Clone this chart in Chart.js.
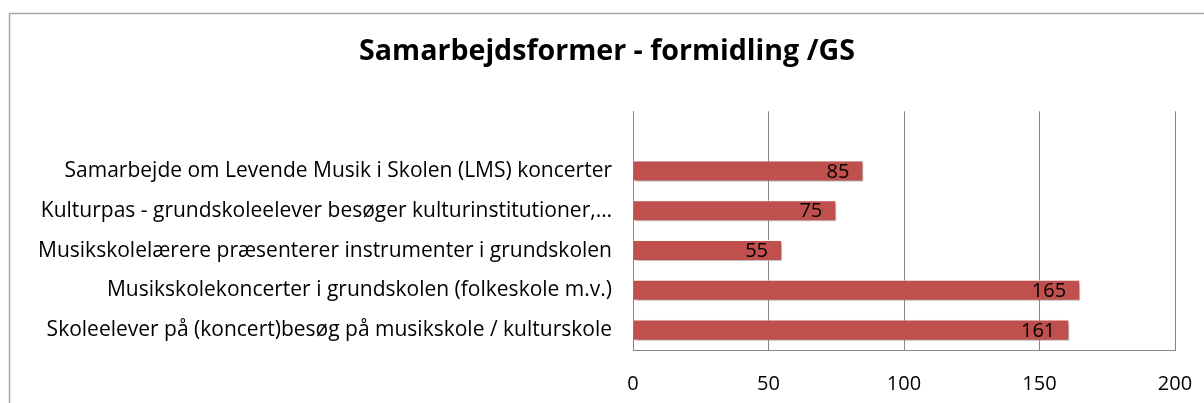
<!DOCTYPE html>
<html>
<head>
<meta charset="utf-8">
<script src="https://cdn.jsdelivr.net/npm/chart.js@4/dist/chart.umd.min.js"></script>
<style>
  html, body { margin: 0; padding: 0; background: #fff; }
  #wrap { width: 1204px; height: 403px; position: relative; }
</style>
</head>
<body>
<div id="wrap"><canvas id="chart" width="1204" height="403"></canvas></div>
<script>
// data (top slot is empty in the original)
var categories = [
  '',
  'Samarbejde om Levende Musik i Skolen (LMS) koncerter',
  'Kulturpas - grundskoleelever besøger kulturinstitutioner,…',
  'Musikskolelærere præsenterer instrumenter i grundskolen',
  'Musikskolekoncerter i grundskolen (folkeskole m.v.)',
  'Skoleelever på (koncert)besøg på musikskole / kulturskole'
];
var values = [null, 85, 75, 55, 165, 161];
var xTicks = [0, 50, 100, 150, 200];

var FONT = '"Open Sans", sans-serif';

// frame round the whole chart
var framePlugin = {
  id: 'frame',
  beforeDraw: function(chart) {
    var ctx = chart.ctx;
    ctx.save();
    ctx.fillStyle = '#fff';
    ctx.fillRect(0, 0, chart.width, chart.height);
    ctx.strokeStyle = '#a6a6a6';
    ctx.lineWidth = 1.5;
    ctx.strokeRect(9.5, 13.5, 1400, 600);
    ctx.restore();
  }
};

// soft shadow under the bars
var shadowPlugin = {
  id: 'barShadow',
  beforeDatasetsDraw: function(chart) {
    var ctx = chart.ctx;
    ctx.save();
    ctx.shadowColor = 'rgba(0,0,0,0.35)';
    ctx.shadowOffsetX = 2;
    ctx.shadowOffsetY = 2;
    ctx.shadowBlur = 3;
  },
  afterDatasetsDraw: function(chart) {
    chart.ctx.restore();
  }
};

// value labels inside the end of each bar
var valuePlugin = {
  id: 'values',
  afterDatasetsDraw: function(chart) {
    var ctx = chart.ctx;
    var meta = chart.getDatasetMeta(0);
    ctx.save();
    ctx.font = '20px ' + FONT;
    ctx.fillStyle = '#000';
    ctx.textAlign = 'right';
    ctx.textBaseline = 'middle';
    meta.data.forEach(function(bar, i) {
      if (values[i] == null) return;
      ctx.fillText(String(values[i]), bar.x - 14, bar.y + 1);
    });
    ctx.restore();
  }
};

new Chart(document.getElementById('chart'), {
  type: 'bar',
  data: {
    labels: categories,
    datasets: [{
      data: values,
      backgroundColor: '#C0504D',
      borderColor: 'rgba(255,255,255,0.7)',
      borderWidth: 1,
      categoryPercentage: 1,
      barPercentage: 0.53
    }]
  },
  options: {
    indexAxis: 'y',
    responsive: false,
    animation: false,
    layout: { padding: { left: 28, right: 18, top: 0, bottom: 9 } },
    plugins: {
      legend: { display: false },
      tooltip: { enabled: false },
      title: {
        display: true,
        text: 'Samarbejdsformer - formidling /GS',
        color: '#000',
        font: { family: FONT, size: 28.6, weight: 'bold', lineHeight: 1.2 },
        padding: { top: 35, bottom: 42 }
      }
    },
    scales: {
      x: {
        min: 0,
        max: 200,
        afterBuildTicks: function(scale) {
          scale.ticks = xTicks.map(function(v) { return { value: v }; });
        },
        afterFit: function(scale) {
          scale.height = 44;
          scale.paddingRight = 29;
        },
        grid: { color: '#868686', lineWidth: 1, drawTicks: false },
        border: { display: true, color: '#868686', width: 1 },
        ticks: {
          color: '#000',
          padding: 22,
          maxRotation: 0,
          autoSkip: false,
          font: { family: FONT, size: 20 }
        }
      },
      y: {
        afterFit: function(scale) { scale.width = 605; },
        grid: { display: false, drawTicks: false },
        border: { display: true, color: '#868686', width: 1 },
        ticks: {
          color: '#000',
          padding: 21,
          autoSkip: false,
          font: { family: FONT, size: 21 }
        }
      }
    }
  },
  plugins: [framePlugin, shadowPlugin, valuePlugin]
});
</script>
</body>
</html>
